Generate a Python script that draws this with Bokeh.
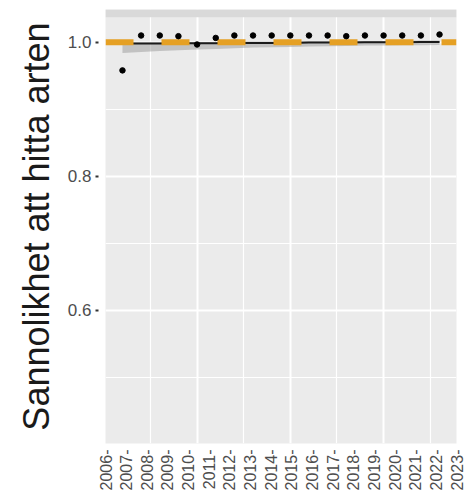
import numpy as np
from bokeh.plotting import figure
from bokeh.models import (Range1d, LinearAxis, FixedTicker, Span, BoxAnnotation,
                          ColumnDataSource, PrintfTickFormatter)
from bokeh.embed import file_html
from bokeh.resources import INLINE

# yearly estimates of the probability of finding the species
years = list(range(2006, 2024))
probability = [0.958, 1.010, 1.010, 1.009, 0.9966, 1.0064, 1.010, 1.010, 1.010,
               1.010, 1.010, 1.010, 1.009, 1.010, 1.010, 1.010, 1.010, 1.0115]

# fitted trend with its confidence band
trend = [0.998, 0.998, 0.998, 0.9985, 0.9985, 0.9985, 0.999, 0.999, 0.999,
         0.999, 0.9995, 0.9995, 0.9995, 1.000, 1.000, 1.000, 1.0005, 1.0005]
trend_lower = [0.984, 0.9855, 0.987, 0.988, 0.989, 0.990, 0.991, 0.992, 0.9925,
               0.993, 0.9935, 0.994, 0.9945, 0.995, 0.995, 0.9955, 0.9955, 0.996]
trend_upper = [1.000, 1.000, 1.000, 1.0005, 1.0005, 1.0005, 1.001, 1.001, 1.001,
               1.001, 1.0015, 1.0015, 1.0015, 1.002, 1.002, 1.002, 1.0025, 1.0025]

reference_level = 1.0

year_labels = {y: f"{y}-" for y in years}
y_ticks = [0.6, 0.8, 1.0]
y_minor = [0.5, 0.7, 0.9]
x_major = [2010, 2015, 2020]
x_minor = [2007.5, 2012.5, 2017.5, 2022.5]

PANEL = "#EBEBEB"
STRIP = "#D9D9D9"
ORANGE = "#E5A024"
FONT = "Liberation Sans"

src = ColumnDataSource(dict(year=years, p=probability, fit=trend,
                            lo=trend_lower, hi=trend_upper))

p = figure(frame_width=351, frame_height=434,
           x_range=Range1d(2005.09, 2023.91), y_range=Range1d(0.4015, 1.0488),
           output_backend="svg", toolbar_location=None,
           min_border_left=105, min_border_right=9, min_border_top=9,
           min_border_bottom=57)
p.outline_line_color = None
p.background_fill_color = PANEL
p.border_fill_color = "white"

# grid
p.xgrid.ticker = FixedTicker(ticks=x_major, minor_ticks=x_minor)
p.ygrid.ticker = FixedTicker(ticks=y_ticks, minor_ticks=y_minor)
for g in (p.xgrid, p.ygrid):
    g.grid_line_color = "white"
    g.grid_line_width = 2
    g.minor_grid_line_color = "white"
    g.minor_grid_line_width = 1.2

# primary x axis is not shown; year labels come from their own axis
p.xaxis.visible = False

p.extra_x_ranges = {"labels": Range1d(years[0], years[-1])}
lab_axis = LinearAxis(x_range_name="labels",
                      ticker=FixedTicker(ticks=years),
                      major_label_overrides=year_labels,
                      major_label_orientation=np.pi / 2)
lab_axis.axis_line_color = None
lab_axis.major_tick_line_color = None
lab_axis.minor_tick_line_color = None
lab_axis.major_tick_out = 0
lab_axis.major_tick_in = 0
lab_axis.major_label_standoff = 6
lab_axis.major_label_text_font = FONT
lab_axis.major_label_text_font_size = "16px"
lab_axis.major_label_text_color = "#4D4D4D"
p.add_layout(lab_axis, "below")

# y axis
ya = p.yaxis[0]
ya.ticker = FixedTicker(ticks=y_ticks, minor_ticks=y_minor)
ya.formatter = PrintfTickFormatter(format="%.1f")
ya.axis_line_color = None
ya.minor_tick_line_color = None
ya.major_tick_line_color = "#333333"
ya.major_tick_line_width = 2
ya.major_tick_in = -7
ya.major_tick_out = 10
ya.major_label_standoff = 4
ya.major_label_text_font = FONT
ya.major_label_text_font_size = "17px"
ya.major_label_text_color = "#4D4D4D"
ya.axis_label = "Sannolikhet att hitta arten"
ya.axis_label_text_font = FONT
ya.axis_label_text_font_size = "36px"
ya.axis_label_text_font_style = "normal"
ya.axis_label_text_color = "#1A1A1A"
ya.axis_label_standoff = 8

# confidence band and trend line
p.varea(x="year", y1="lo", y2="hi", source=src, fill_color="#999999",
        fill_alpha=0.5)
p.line(x="year", y="fit", source=src, line_color="#1A1A1A", line_width=2)

# reference level
p.add_layout(Span(location=reference_level, dimension="width",
                  line_color=ORANGE, line_width=6, line_dash="28 28"))

# yearly points
p.scatter(x="year", y="p", source=src, size=5.5, color="black", level="overlay")

# empty facet strip along the top of the panel
p.add_layout(BoxAnnotation(bottom=1.0373, fill_color=STRIP, fill_alpha=1,
                           line_color=None))

open("out.html", "w").write(file_html(p, INLINE))
